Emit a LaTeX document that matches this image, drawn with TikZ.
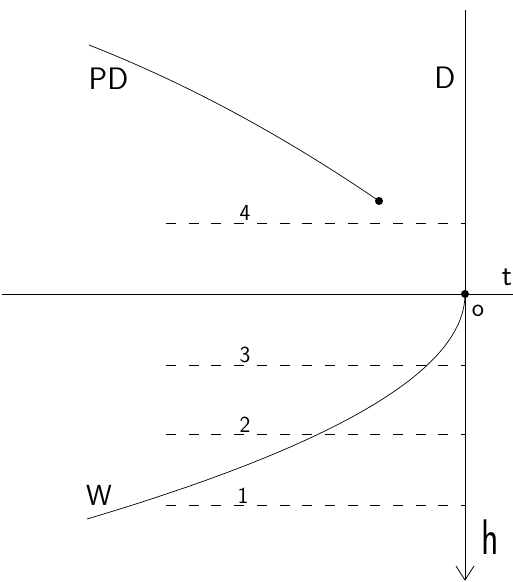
\documentclass[tikz,border=0pt]{standalone}
\begin{document}
\begin{tikzpicture}[x=1pt,y=-1pt,
  axisline/.style={line width=0.8pt},
  curveline/.style={line width=0.7pt},
  level/.style={line width=0.7pt, dash pattern=on 10pt off 12.7pt},
  lbl/.style={inner sep=0pt, font=\sffamily},
  dotpt/.style={circle, fill=black, inner sep=0pt, minimum size=8pt}]
\useasboundingbox (0,0) rectangle (513,582);
% coordinates
\coordinate (vtop) at (465,10);
\coordinate (vbot) at (465,580);
\coordinate (hleft) at (2,294);
\coordinate (hright) at (513,294);
\coordinate (armL) at (456,566);
\coordinate (armR) at (474,566);
\coordinate (pdstart) at (89,45);
\coordinate (wend) at (87,519);
\coordinate (d4) at (166,223);
\coordinate (e4) at (465,223);
\coordinate (d3) at (166,365);
\coordinate (e3) at (465,365);
\coordinate (d2) at (166,434);
\coordinate (e2) at (465,434);
\coordinate (d1) at (166,505);
\coordinate (e1) at (465,505);
% dots
\node[dotpt] (pdend) at (379,201) {};
\node[dotpt] (orig) at (465,294) {};
% axes
\draw[axisline] (vtop) -- (vbot);
\draw[axisline] (hleft) -- (hright);
\draw[axisline] (armL) -- (vbot) -- (armR);
% level lines
\draw[level] (d4) -- (e4);
\draw[level] (d3) -- (e3);
\draw[level] (d2) -- (e2);
\draw[level] (d1) -- (e1);
% curves
\draw[curveline] (pdstart) .. controls (185.7,82.9) and (282.3,134.9) .. (pdend.center);
\draw[curveline] (orig.center) .. controls (465,369) and (339,444) .. (wend);
% labels
\node[lbl, font=\sffamily\fontsize{31}{31}\selectfont] (PD) at (108.5,78.5) {PD};
\node[lbl, font=\sffamily\fontsize{31}{31}\selectfont] (D) at (445,77.5) {D};
\node[lbl, font=\sffamily\fontsize{29}{29}\selectfont] (W) at (99,495) {W};
\node[lbl, font=\sffamily\fontsize{23}{23}\selectfont] (n4) at (245,212.5) {4};
\node[lbl, font=\sffamily\fontsize{23}{23}\selectfont] (n3) at (245,355) {3};
\node[lbl, font=\sffamily\fontsize{23}{23}\selectfont] (n2) at (245,425) {2};
\node[lbl, font=\sffamily\fontsize{23}{23}\selectfont] (n1) at (243,496) {1};
\node[lbl, font=\sffamily\fontsize{30}{30}\selectfont] (t) at (507,277) {t};
\node[lbl, font=\sffamily\fontsize{26}{26}\selectfont] (o) at (478,311) {o};
\node[lbl, font=\sffamily\fontsize{50}{50}\selectfont, xscale=0.72] (h) at (490,537.5) {h};
\end{tikzpicture}
\end{document}
